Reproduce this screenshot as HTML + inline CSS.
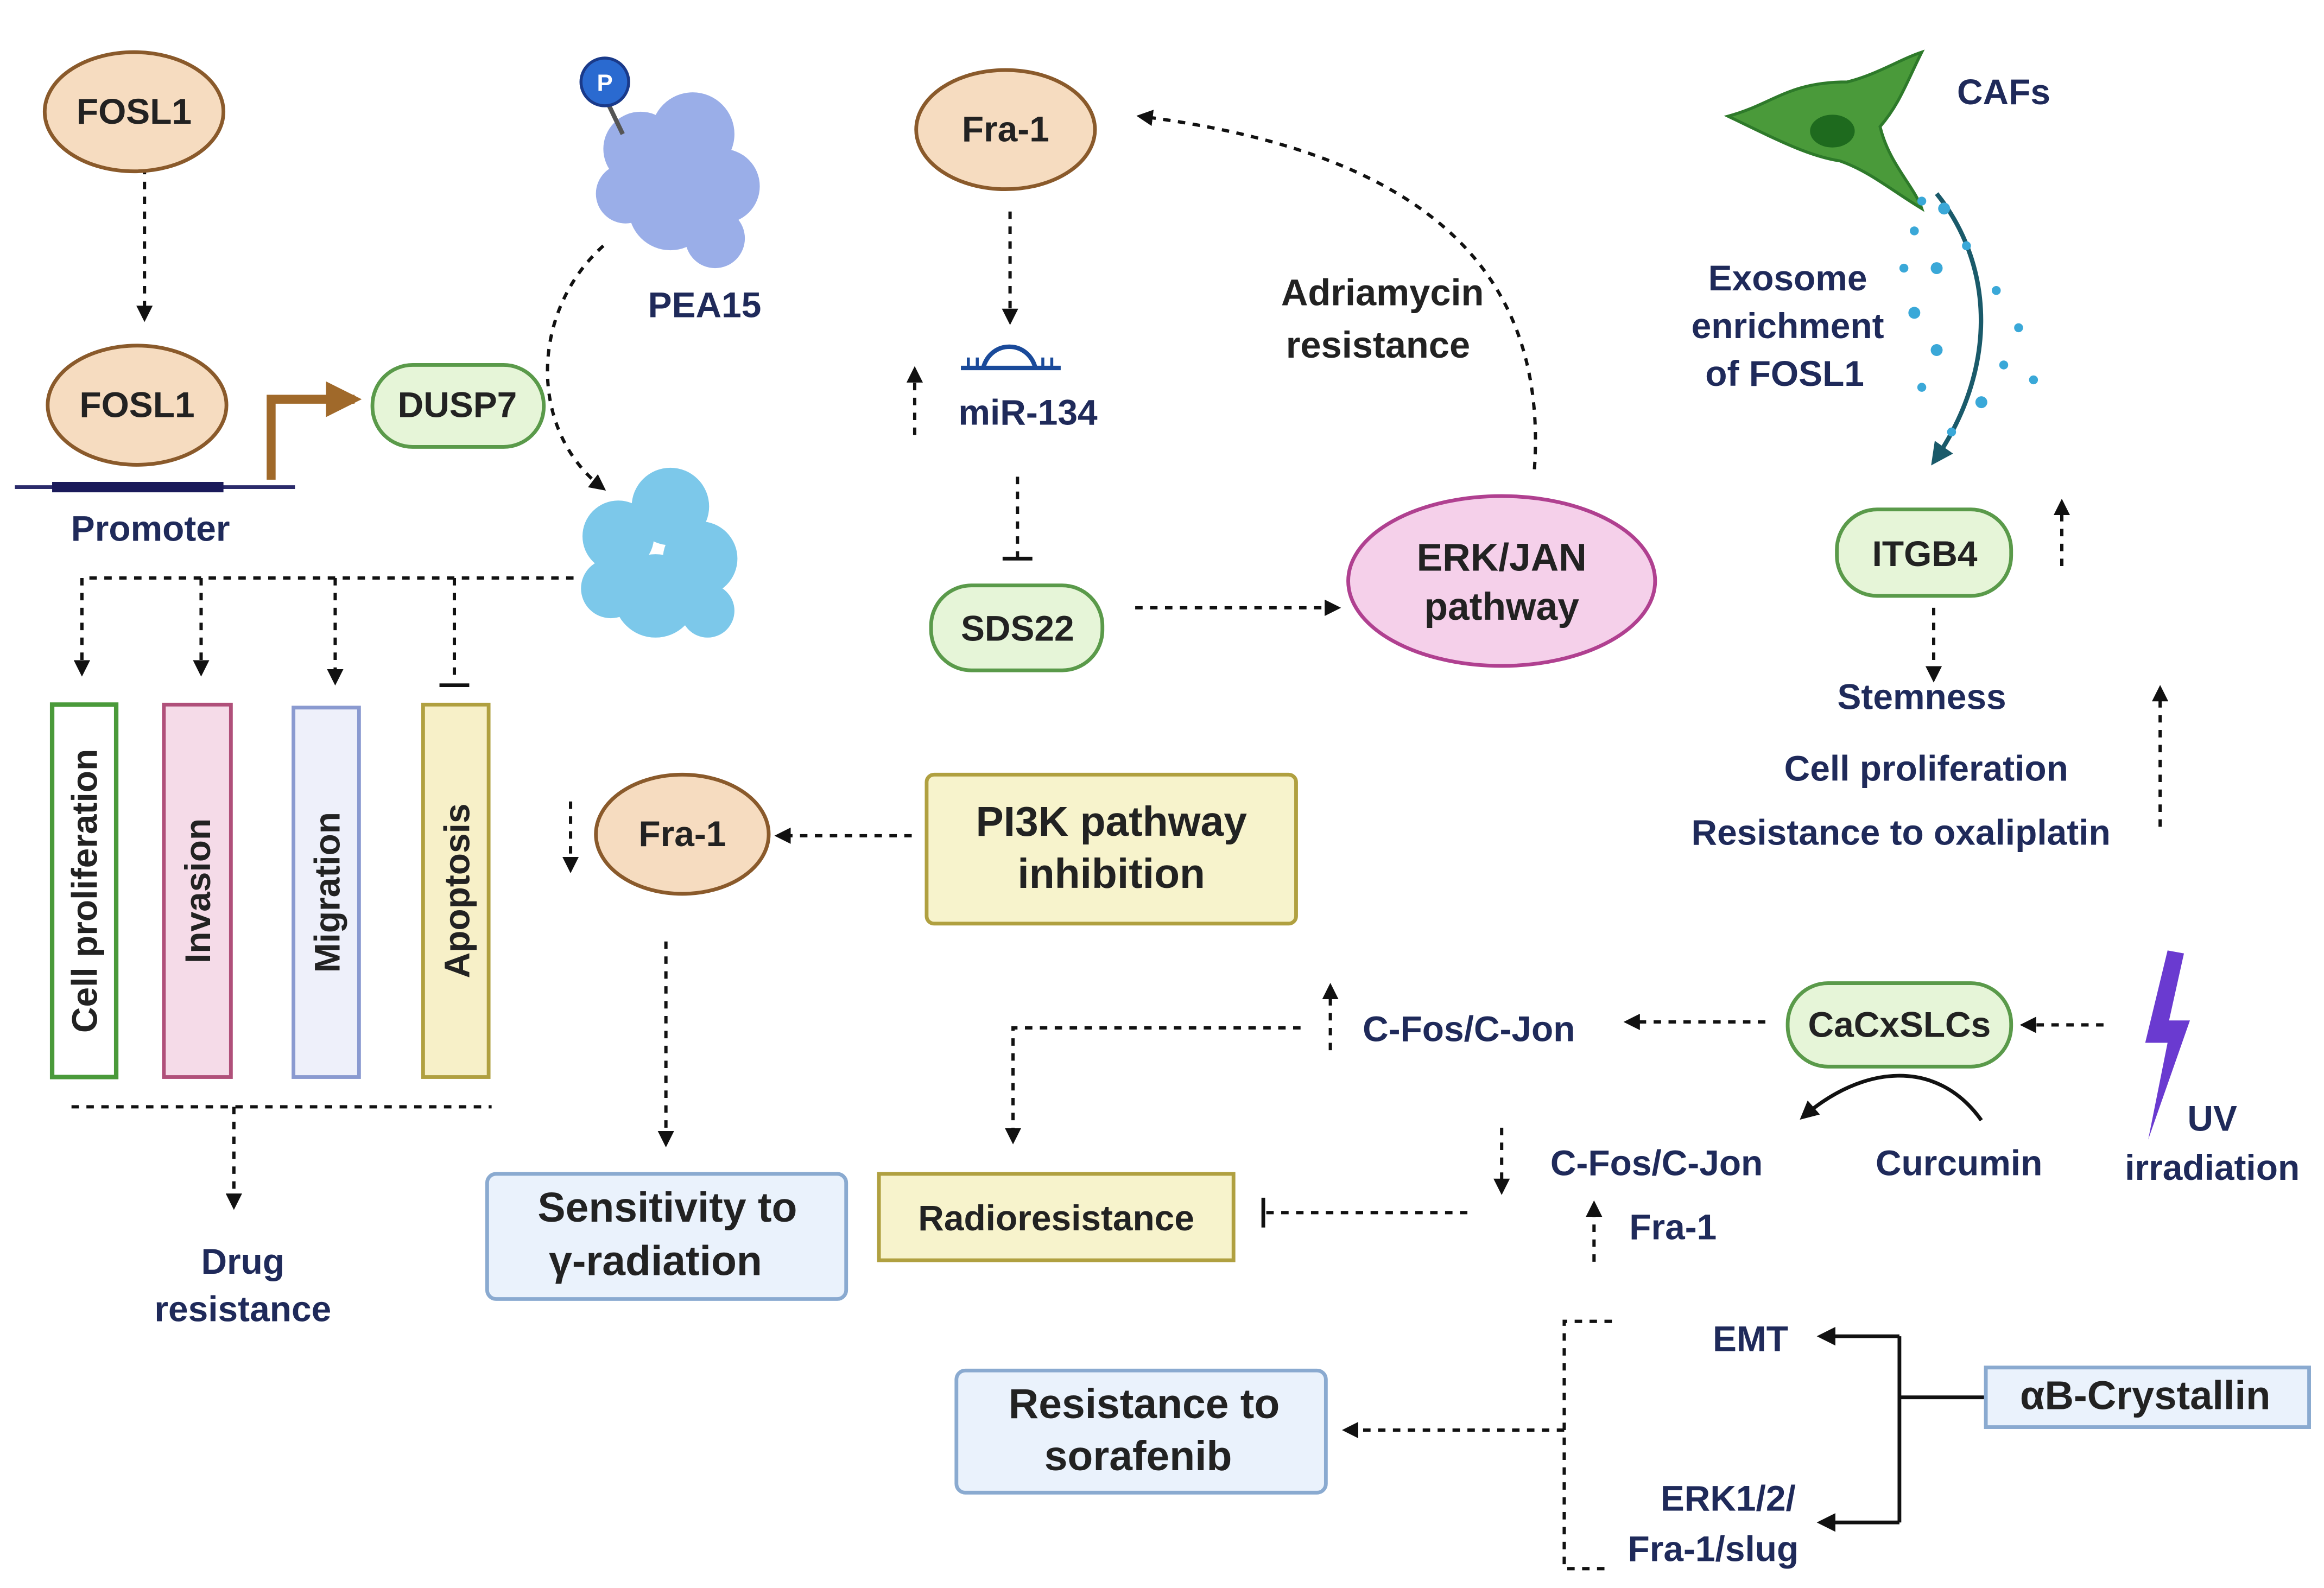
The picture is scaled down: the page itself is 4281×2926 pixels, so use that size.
<!DOCTYPE html>
<html><head><meta charset="utf-8"><style>
html,body{margin:0;padding:0;background:#fff;}
svg{display:block;}
text{font-family:"Liberation Sans",sans-serif;font-weight:bold;}
</style></head><body>
<svg width="4281" height="2926" viewBox="0 0 1560 1066" preserveAspectRatio="none" xmlns="http://www.w3.org/2000/svg">
<defs>
<marker id="ah" viewBox="0 0 10 10" refX="8" refY="5" markerWidth="5" markerHeight="5" orient="auto"><path d="M0,0 L10,5 L0,10 z" fill="#111"/></marker>
<marker id="ahb" viewBox="0 0 10 10" refX="8" refY="5" markerWidth="4" markerHeight="4" orient="auto"><path d="M0,0 L10,5 L0,10 z" fill="#a0692a"/></marker>
<marker id="aht" viewBox="0 0 10 10" refX="8" refY="5" markerWidth="5" markerHeight="5" orient="auto"><path d="M0,0 L10,5 L0,10 z" fill="#1a5a6a"/></marker>
</defs>
<rect width="1560" height="1066" fill="#fff"/>
<g stroke="#111" stroke-width="2.2" fill="none" stroke-dasharray="5,5">
<!-- FOSL1 -> FOSL1 -->
<line x1="97" y1="102" x2="97" y2="214" marker-end="url(#ah)"/>
<!-- PEA15 curve -->
<path d="M405,165 C355,210 355,290 405,328" marker-end="url(#ah)"/>
<!-- horizontal branch -->
<path d="M385,388 L55,388"/>
<line x1="55" y1="388" x2="55" y2="452" marker-end="url(#ah)"/>
<line x1="135" y1="388" x2="135" y2="452" marker-end="url(#ah)"/>
<line x1="225" y1="388" x2="225" y2="458" marker-end="url(#ah)"/>
<line x1="305" y1="388" x2="305" y2="458"/>
<line x1="48" y1="743" x2="330" y2="743"/>
<line x1="157" y1="743" x2="157" y2="810" marker-end="url(#ah)"/>
<!-- Fra-1 top -->
<line x1="678" y1="142" x2="678" y2="216" marker-end="url(#ah)"/>
<line x1="614" y1="292" x2="614" y2="248" marker-end="url(#ah)"/>
<line x1="683" y1="320" x2="683" y2="374"/>
<line x1="762" y1="408" x2="898" y2="408" marker-end="url(#ah)"/>
<path d="M1030,315 C1040,170 940,100 765,78" marker-end="url(#ah)"/>
<!-- ITGB4 -->
<line x1="1298" y1="408" x2="1298" y2="456" marker-end="url(#ah)"/>
<line x1="1384" y1="380" x2="1384" y2="337" marker-end="url(#ah)"/>
<line x1="1450" y1="555" x2="1450" y2="462" marker-end="url(#ah)"/>
<!-- Fra-1 middle -->
<line x1="383" y1="538" x2="383" y2="584" marker-end="url(#ah)"/>
<line x1="612" y1="561" x2="522" y2="561" marker-end="url(#ah)"/>
<line x1="447" y1="632" x2="447" y2="768" marker-end="url(#ah)"/>
<line x1="340" y1="860" x2="340" y2="800" marker-end="url(#ah)"/>
<!-- CaCx -->
<line x1="1412" y1="688" x2="1358" y2="688" marker-end="url(#ah)"/>
<line x1="1185" y1="686" x2="1092" y2="686" marker-end="url(#ah)"/>
<line x1="893" y1="705" x2="893" y2="662" marker-end="url(#ah)"/>
<path d="M873,690 L680,690 L680,766" marker-end="url(#ah)"/>
<line x1="1008" y1="757" x2="1008" y2="800" marker-end="url(#ah)"/>
<line x1="1070" y1="847" x2="1070" y2="808" marker-end="url(#ah)"/>
<line x1="985" y1="814" x2="850" y2="814"/>
<path d="M1082,887 L1050,887 L1050,1053 L1082,1053"/>
<line x1="1050" y1="960" x2="903" y2="960" marker-end="url(#ah)"/>
</g>
<!-- T bars -->
<g stroke="#111" stroke-width="2.5">
<line x1="295" y1="460" x2="315" y2="460"/>
<line x1="673" y1="375" x2="693" y2="375"/>
<line x1="848" y1="804" x2="848" y2="824"/>
</g>
<!-- solid arrows -->
<g stroke="#111" stroke-width="2.5" fill="none">
<path d="M1333,938 L1275,938"/>
<path d="M1275,897 L1275,1022"/>
<line x1="1275" y1="897" x2="1222" y2="897" marker-end="url(#ah)"/>
<line x1="1275" y1="1022" x2="1222" y2="1022" marker-end="url(#ah)"/>
<path d="M1330,752 C1300,710 1250,715 1210,750" marker-end="url(#ah)"/>
</g>
<!-- Promoter -->
<line x1="10" y1="327" x2="198" y2="327" stroke="#2b2b6b" stroke-width="2.5"/>
<line x1="35" y1="327" x2="150" y2="327" stroke="#1a1a5a" stroke-width="7"/>
<path d="M182,322 L182,268 L238,268" stroke="#a0692a" stroke-width="6" fill="none" marker-end="url(#ahb)"/>
<!-- Ellipses -->
<g fill="#f6dcc0" stroke="#8a5a2b" stroke-width="2.5">
<ellipse cx="90" cy="75" rx="60" ry="40"/>
<ellipse cx="92" cy="272" rx="60" ry="40"/>
<ellipse cx="675" cy="87" rx="60" ry="40"/>
<ellipse cx="458" cy="560" rx="58" ry="40"/>
</g>
<ellipse cx="1008" cy="390" rx="103" ry="57" fill="#f5d0ea" stroke="#b04090" stroke-width="2.5"/>
<!-- green rects -->
<g fill="#e6f5d8" stroke="#5a9a4a" stroke-width="2.5">
<rect x="250" y="245" width="115" height="55" rx="27"/>
<rect x="625" y="393" width="115" height="57" rx="27"/>
<rect x="1233" y="342" width="117" height="58" rx="27"/>
<rect x="1200" y="660" width="150" height="56" rx="27"/>
</g>
<!-- vertical boxes -->
<rect x="35" y="473" width="43" height="250" fill="#fff" stroke="#4a9a3a" stroke-width="3"/>
<rect x="110" y="473" width="45" height="250" fill="#f5dbe8" stroke="#b0507a" stroke-width="2.5"/>
<rect x="197" y="475" width="44" height="248" fill="#eef0fa" stroke="#8a9ad0" stroke-width="2.5"/>
<rect x="284" y="473" width="44" height="250" fill="#f7f0c8" stroke="#b0a040" stroke-width="2.5"/>
<!-- boxes -->
<rect x="622" y="520" width="248" height="100" rx="5" fill="#f7f3cc" stroke="#b0a040" stroke-width="2.5"/>
<rect x="327" y="788" width="241" height="84" rx="6" fill="#eaf2fc" stroke="#8aaad0" stroke-width="2.5"/>
<rect x="590" y="788" width="238" height="58" fill="#f7f3cc" stroke="#b0a040" stroke-width="2.5"/>
<rect x="642" y="920" width="248" height="82" rx="6" fill="#eaf2fc" stroke="#8aaad0" stroke-width="2.5"/>
<rect x="1333" y="918" width="217" height="40" fill="#eaf2fc" stroke="#8aaad0" stroke-width="2.5"/>
<!-- proteins -->
<g fill="#9aaee8">
<circle cx="430" cy="100" r="25"/><circle cx="465" cy="90" r="28"/><circle cx="485" cy="125" r="25"/><circle cx="450" cy="140" r="28"/><circle cx="420" cy="130" r="20"/><circle cx="480" cy="160" r="20"/>
</g>
<line x1="406" y1="65" x2="418" y2="90" stroke="#555" stroke-width="3"/>
<circle cx="406" cy="55" r="16" fill="#2a6ad0" stroke="#1a3a8a" stroke-width="2"/>
<text x="406" y="61" font-size="16" fill="#fff" text-anchor="middle">P</text>
<g fill="#7cc8ea">
<circle cx="415" cy="360" r="24"/><circle cx="450" cy="340" r="26"/><circle cx="470" cy="375" r="25"/><circle cx="440" cy="400" r="28"/><circle cx="410" cy="395" r="20"/><circle cx="475" cy="410" r="18"/>
</g>
<!-- miR-134 icon -->
<path d="M645,247 L712,247 M660,247 C665,228 690,228 695,247" stroke="#1a4a9a" stroke-width="3" fill="none"/>
<g stroke="#1a4a9a" stroke-width="2"><line x1="650" y1="247" x2="650" y2="240"/><line x1="656" y1="247" x2="656" y2="240"/><line x1="700" y1="247" x2="700" y2="240"/><line x1="706" y1="247" x2="706" y2="240"/></g>
<!-- CAF cell -->
<path d="M1160,78 C1190,70 1200,55 1240,55 C1260,50 1275,40 1290,35 C1280,55 1275,70 1262,85 C1268,110 1285,125 1290,140 C1270,128 1255,115 1235,108 C1215,105 1195,95 1160,78 Z" fill="#4a9a3a" stroke="#2e7a2a" stroke-width="2"/>
<ellipse cx="1230" cy="88" rx="15" ry="11" fill="#1e6a1e"/>
<path d="M1300,130 C1340,180 1340,250 1298,310" stroke="#1a5a6a" stroke-width="3" fill="none" marker-end="url(#aht)"/>
<g fill="#3aa8d8">
<circle cx="1290" cy="135" r="3"/><circle cx="1305" cy="140" r="4"/><circle cx="1285" cy="155" r="3"/><circle cx="1320" cy="165" r="3"/><circle cx="1300" cy="180" r="4"/><circle cx="1340" cy="195" r="3"/><circle cx="1285" cy="210" r="4"/><circle cx="1355" cy="220" r="3"/><circle cx="1300" cy="235" r="4"/><circle cx="1345" cy="245" r="3"/><circle cx="1290" cy="260" r="3"/><circle cx="1365" cy="255" r="3"/><circle cx="1330" cy="270" r="4"/><circle cx="1310" cy="290" r="3"/><circle cx="1278" cy="180" r="3"/>
</g>
<!-- lightning -->
<path d="M1455,638 L1440,700 L1455,700 L1442,765 L1470,685 L1456,685 L1466,640 Z" fill="#6a3ad0"/>
<!-- texts -->
<g font-size="24" fill="#222" text-anchor="middle">
<text x="90" y="83">FOSL1</text>
<text x="92" y="280">FOSL1</text>
<text x="307" y="280">DUSP7</text>
<text x="675" y="95">Fra-1</text>
<text x="683" y="430">SDS22</text>
<text x="1008" y="383" font-size="26">ERK/JAN</text>
<text x="1008" y="416" font-size="26">pathway</text>
<text x="1292" y="380">ITGB4</text>
<text x="458" y="568">Fra-1</text>
<text x="746" y="561" font-size="28">PI3K pathway</text>
<text x="746" y="596" font-size="28">inhibition</text>
<text x="448" y="820" font-size="28">Sensitivity to</text>
<text x="440" y="856" font-size="28">γ-radiation</text>
<text x="709" y="826">Radioresistance</text>
<text x="768" y="952" font-size="28">Resistance to</text>
<text x="764" y="987" font-size="28">sorafenib</text>
<text x="1275" y="696">CaCxSLCs</text>
<text x="1440" y="946" font-size="27">αB-Crystallin</text>
<text x="928" y="205" font-size="25">Adriamycin</text>
<text x="925" y="240" font-size="25">resistance</text>
</g>
<g font-size="24" fill="#222" text-anchor="middle">
<text transform="translate(65,598) rotate(-90)">Cell proliferation</text>
<text transform="translate(141,598) rotate(-90)">Invasion</text>
<text transform="translate(228,599) rotate(-90)">Migration</text>
<text transform="translate(315,598) rotate(-90)">Apoptosis</text>
</g>
<g font-size="24" fill="#1f2a5a" text-anchor="middle">
<text x="101" y="363">Promoter</text>
<text x="473" y="213">PEA15</text>
<text x="690" y="285">miR-134</text>
<text x="1345" y="70">CAFs</text>
<text x="1200" y="195">Exosome</text>
<text x="1200" y="227">enrichment</text>
<text x="1198" y="259">of FOSL1</text>
<text x="1290" y="476">Stemness</text>
<text x="1293" y="524">Cell proliferation</text>
<text x="1276" y="567">Resistance to oxaliplatin</text>
<text x="163" y="855">Drug</text>
<text x="163" y="887">resistance</text>
<text x="986" y="699">C-Fos/C-Jon</text>
<text x="1112" y="789">C-Fos/C-Jon</text>
<text x="1123" y="832">Fra-1</text>
<text x="1315" y="789">Curcumin</text>
<text x="1485" y="759">UV</text>
<text x="1485" y="792">irradiation</text>
<text x="1175" y="907">EMT</text>
<text x="1160" y="1014">ERK1/2/</text>
<text x="1150" y="1048">Fra-1/slug</text>
</g>
</svg>
</body></html>
